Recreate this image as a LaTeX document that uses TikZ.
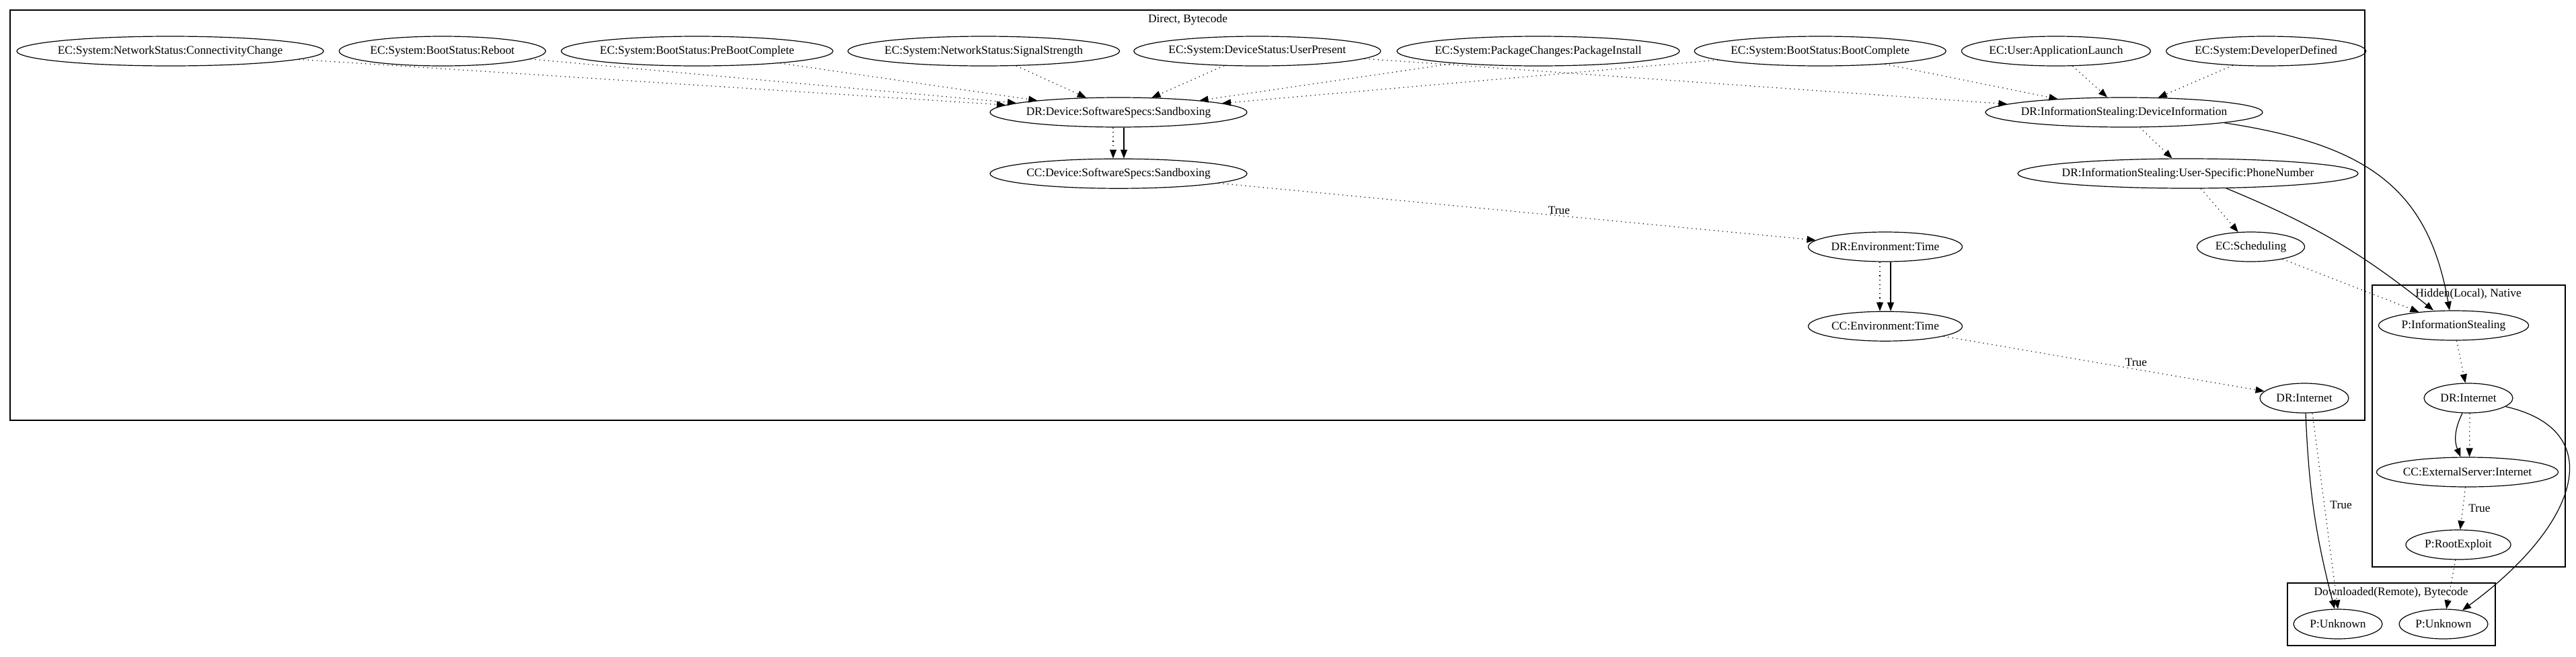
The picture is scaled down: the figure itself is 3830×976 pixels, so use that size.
\documentclass[tikz,border=0pt]{standalone}
\usepackage{fontspec}
\setmainfont{Liberation Serif}
\usepackage{tikz}
\usetikzlibrary{shapes.geometric, arrows.meta, positioning}
\newcommand{\gvfont}{\fontsize{8.7pt}{10pt}\selectfont}
\tikzset{
  gnode/.style      = {ellipse, draw=black, line width=0.6pt, minimum height=22pt,
                       inner xsep=-8pt, inner ysep=0pt, font=\gvfont},
  cluster/.style    = {draw=black, line width=0.6pt},
  clusterlab/.style = {font=\gvfont, inner sep=0pt},
  flow/.style       = {-{Triangle[length=6.5pt, width=5pt]}, line width=0.6pt, draw=black},
  dotflow/.style    = {-{Triangle[length=6.5pt, width=5pt]}, line width=0.6pt, draw=black,
                       dash pattern=on 0.6pt off 2.7pt},
  flowlab/.style    = {font=\gvfont, inner sep=1pt},
}

\begin{document}
\begin{tikzpicture}[x=0.5pt, y=-0.5pt]
  \useasboundingbox (0,0) rectangle (3830,976);

  % clusters
  \draw[cluster] (15,15) rectangle (3516,625);
  \node[clusterlab] (cdirect) at (1766,29) {Direct, Bytecode};
  \draw[cluster] (3527,424) rectangle (3814,843);
  \node[clusterlab] (chidden) at (3670,437) {Hidden(Local), Native};
  \draw[cluster] (3401,867) rectangle (3710,960);
  \node[clusterlab] (cdown) at (3555,881) {Downloaded(Remote), Bytecode};

  % entry conditions
  \node[gnode, minimum width=228pt] (ecconn) at (253,76) {EC:System:NetworkStatus:ConnectivityChange};
  \node[gnode, minimum width=153.5pt, right=11pt of ecconn] (ecreboot) {EC:System:BootStatus:Reboot};
  \node[gnode, minimum width=202pt, right=11pt of ecreboot] (ecpreboot) {EC:System:BootStatus:PreBootComplete};
  \node[gnode, minimum width=202pt, right=10.5pt of ecpreboot] (ecsignal) {EC:System:NetworkStatus:SignalStrength};
  \node[gnode, minimum width=183.5pt, right=10pt of ecsignal] (ecuser) {EC:System:DeviceStatus:UserPresent};
  \node[gnode, minimum width=210pt, right=11.5pt of ecuser] (ecpkg) {EC:System:PackageChanges:PackageInstall};
  \node[gnode, minimum width=187pt, right=10.5pt of ecpkg] (ecboot) {EC:System:BootStatus:BootComplete};
  \node[gnode, minimum width=140.5pt, right=11pt of ecboot] (ecapp) {EC:User:ApplicationLaunch};
  \node[gnode, minimum width=148.5pt, right=11pt of ecapp] (ecdev) {EC:System:DeveloperDefined};

  % direct, bytecode
  \node[gnode, minimum width=191pt] (drsand) at (1663,167) {DR:Device:SoftwareSpecs:Sandboxing};
  \node[gnode, minimum width=191pt, below=23pt of drsand] (ccsand) {CC:Device:SoftwareSpecs:Sandboxing};
  \node[gnode, minimum width=206pt] (drdevinfo) at (3158,167) {DR:InformationStealing:DeviceInformation};
  \node[gnode, minimum width=253pt] (drphone) at (3253,258) {DR:InformationStealing:User-Specific:PhoneNumber};
  \node[gnode, minimum width=114.5pt] (drtime) at (2803,367) {DR:Environment:Time};
  \node[gnode, minimum width=114.5pt, below=36.5pt of drtime] (cctime) {CC:Environment:Time};
  \node[gnode, minimum width=80pt] (ecsched) at (3346.5,367) {EC:Scheduling};
  \node[gnode, minimum width=66pt] (drnet) at (3426,592) {DR:Internet};

  % hidden, native
  \node[gnode, minimum width=111.5pt] (pinfo) at (3648,484) {P:InformationStealing};
  \node[gnode, minimum width=66pt] (drnetn) at (3670,592) {DR:Internet};
  \node[gnode, minimum width=135pt] (ccext) at (3668.5,702) {CC:ExternalServer:Internet};
  \node[gnode, minimum width=78pt] (proot) at (3655,810) {P:RootExploit};

  % downloaded, bytecode
  \node[gnode, minimum width=66pt] (punk) at (3476,928) {P:Unknown};
  \node[gnode, minimum width=66pt] (punkn) at (3633,928) {P:Unknown};

  % edges
  \draw[dotflow] (ecconn) -- (drsand);
  \draw[dotflow] (ecreboot) -- (drsand);
  \draw[dotflow] (ecpreboot) -- (drsand);
  \draw[dotflow] (ecsignal) -- (drsand);
  \draw[dotflow] (ecuser) -- (drsand);
  \draw[dotflow] (ecpkg) -- (drsand);
  \draw[dotflow] (ecboot) -- (drsand);
  \draw[dotflow] (ecuser) -- (drdevinfo);
  \draw[dotflow] (ecboot) -- (drdevinfo);
  \draw[dotflow] (ecapp) -- (drdevinfo);
  \draw[dotflow] (ecdev) -- (drdevinfo);

  \draw[dotflow] ([xshift=-4pt]drsand.south) -- ([xshift=-4pt]ccsand.north);
  \draw[flow] ([xshift=4pt]drsand.south) -- ([xshift=4pt]ccsand.north);
  \draw[dotflow] (ccsand) -- node[flowlab, pos=.57, yshift=4pt] (ltrue1) {True} (drtime);
  \draw[dotflow] ([xshift=-4pt]drtime.south) -- ([xshift=-4pt]cctime.north);
  \draw[flow] ([xshift=4pt]drtime.south) -- ([xshift=4pt]cctime.north);
  \draw[dotflow] (cctime) -- node[flowlab, pos=.6, yshift=5pt] (ltrue2) {True} (drnet);

  \draw[dotflow] (drdevinfo) -- (drphone);
  \draw[flow] (drdevinfo.-6) .. controls (3520,215) and (3610,280) .. ([xshift=-3pt]pinfo.north);
  \draw[flow] (drphone) to[bend left=8] ([xshift=-15pt]pinfo.north);
  \draw[dotflow] (drphone) -- (ecsched);
  \draw[dotflow] (ecsched) -- (pinfo);

  \draw[dotflow] (pinfo) -- (drnetn);
  \draw[dotflow] ([xshift=1pt]drnetn.south) -- ([xshift=1.5pt]ccext.north);
  \draw[flow] ([xshift=-4.5pt]drnetn.south) to[bend right=25] ([xshift=-5pt]ccext.north);
  \draw[flow] (drnetn) .. controls (3880,640) and (3835,780) .. (punkn);
  \draw[dotflow] (ccext) -- node[flowlab, right=3pt] (ltrue4) {True} (proot);
  \draw[dotflow] (proot) -- (punkn);

  \draw[flow] ([xshift=1pt]drnet.south) to[bend right=6] ([xshift=-2.5pt]punk.north);
  \draw[dotflow] ([xshift=6pt]drnet.south) -- node[flowlab, right=3pt, pos=.47] (ltrue3) {True} (punk.north);
\end{tikzpicture}
\end{document}
